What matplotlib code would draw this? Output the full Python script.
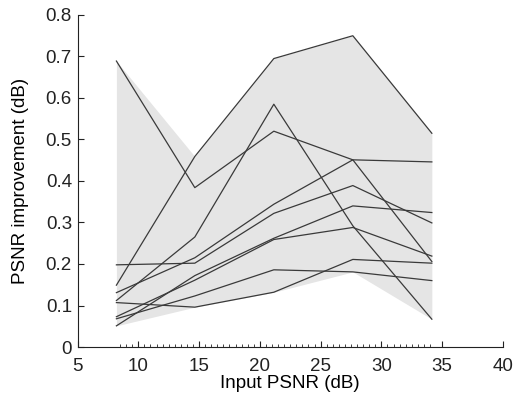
import numpy as np
import matplotlib.pyplot as plt
from matplotlib.ticker import FixedLocator

plt.rcParams['font.family'] = ['Liberation Sans', 'DejaVu Sans']

# input PSNR levels (dB)
input_psnr = [8.2, 14.65, 21.15, 27.65, 34.15]

# PSNR improvement per test image (dB)
img_a = [0.689, 0.384, 0.520, 0.451, 0.446]
img_b = [0.149, 0.459, 0.695, 0.750, 0.515]
img_c = [0.112, 0.265, 0.585, 0.292, 0.067]
img_d = [0.198, 0.202, 0.322, 0.389, 0.299]
img_e = [0.131, 0.215, 0.344, 0.451, 0.206]
img_f = [0.051, 0.172, 0.262, 0.340, 0.324]
img_g = [0.073, 0.161, 0.259, 0.288, 0.219]
img_h = [0.068, 0.123, 0.186, 0.181, 0.160]
img_i = [0.107, 0.096, 0.132, 0.211, 0.202]

curves = [img_a, img_b, img_c, img_d, img_e, img_f, img_g, img_h, img_i]
arr = np.array(curves)

fig = plt.figure(figsize=(5.22, 4.05), dpi=100)
ax = fig.add_axes([0.1485, 0.1432, 0.815, 0.8198])

# grey band between the lowest and highest curve
ax.fill_between(input_psnr, arr.min(axis=0), arr.max(axis=0),
                color='#e5e5e5', linewidth=0, zorder=1)
for c in curves:
    ax.plot(input_psnr, c, color='#3a3a3a', linewidth=0.9, zorder=2)

ax.set_xlim(5, 40)
ax.set_ylim(0, 0.8)
ax.set_xticks(np.arange(5, 41, 5))
ax.set_yticks(np.arange(0, 0.81, 0.1))
ax.set_yticklabels(['0', '0.1', '0.2', '0.3', '0.4', '0.5', '0.6', '0.7', '0.8'])
minor = [v for v in np.arange(8.5, 34.01, 0.5) if v % 5 != 0]
ax.xaxis.set_minor_locator(FixedLocator(minor))

for side in ['top', 'right']:
    ax.spines[side].set_visible(False)
for side in ['left', 'bottom']:
    ax.spines[side].set_linewidth(0.8)
    ax.spines[side].set_color('#222222')

ax.tick_params(which='major', direction='in', length=4, width=0.8,
               labelsize=13.5, colors='#222222')
ax.tick_params(axis='x', which='major', pad=8)
ax.tick_params(axis='y', which='major', pad=4)
ax.tick_params(which='minor', direction='in', length=2, width=0.6,
               colors='#222222')
ax.tick_params(axis='y', which='minor', left=False)

ax.set_xlabel('Input PSNR (dB)', fontsize=13.5, labelpad=0)
ax.set_ylabel('PSNR improvement (dB)', fontsize=13.5, labelpad=12)

fig.savefig('out.png', dpi=100)
